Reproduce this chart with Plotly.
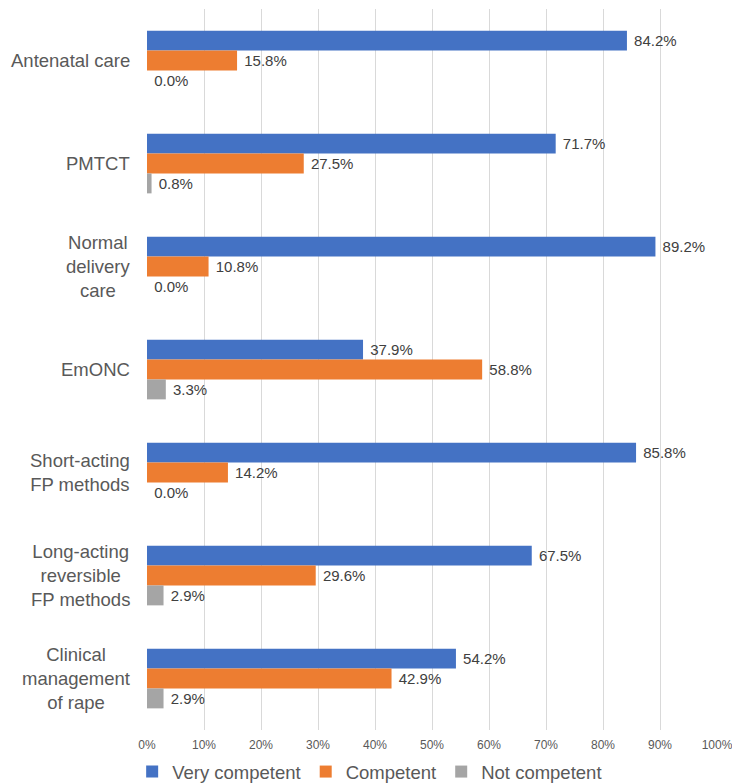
import plotly.graph_objects as go

categories = ["Antenatal care", "PMTCT", "Normal<br>delivery<br>care", "EmONC",
              "Short-acting<br>FP methods", "Long-acting<br>reversible<br>FP methods",
              "Clinical<br>management<br>of rape"]
very_competent = [84.2, 71.7, 89.2, 37.9, 85.8, 67.5, 54.2]
competent = [15.8, 27.5, 10.8, 58.8, 14.2, 29.6, 42.9]
not_competent = [0.0, 0.8, 0.0, 3.3, 0.0, 2.9, 2.9]
series_names = ["Very competent", "Competent", "Not competent"]
colors = ["#4472C4", "#ED7D31", "#A5A5A5"]
tick_vals = [0, 10, 20, 30, 40, 50, 60, 70, 80, 90, 100]
tick_text = [f"{v}%" for v in tick_vals]

FONT = "Liberation Sans, Arial"

fig = go.Figure()
for name, vals, col in zip(series_names, [very_competent, competent, not_competent], colors):
    fig.add_trace(go.Bar(
        y=list(range(len(categories))), x=vals, name=name, orientation="h",
        marker=dict(color=col, line=dict(width=0)),
        text=[f"\u00a0{v:.1f}%" for v in vals], textposition="outside",
        textfont=dict(size=15, color="#404040", family=FONT),
        cliponaxis=False,
    ))

for i, c in enumerate(categories):
    fig.add_annotation(x=0, y=i, xref="paper", yref="y", text=c, showarrow=False,
                       xanchor="right", yanchor="middle", align="center", xshift=-15,
                       font=dict(size=18.5, color="#595959", family=FONT))

fig.update_layout(
    width=732, height=783,
    margin=dict(l=147, r=15, t=9, b=53, autoexpand=False),
    barmode="group", bargap=0.42, bargroupgap=0,
    plot_bgcolor="white", paper_bgcolor="white",
    font=dict(family=FONT, color="#595959"),
    xaxis=dict(range=[0, 100], tickvals=tick_vals, ticktext=tick_text,
               showgrid=True, gridcolor="#D9D9D9", gridwidth=1, zeroline=False,
               showline=False, tickfont=dict(size=12, color="#595959"), ticks="",
               ticklabelstandoff=6, ticklabeloverflow="allow", automargin=False),
    yaxis=dict(range=[len(categories) - 0.5, -0.5], showticklabels=False,
               showgrid=False, zeroline=False, showline=False, ticks="",
               automargin=False),
    legend=dict(orientation="h", x=0.505, xanchor="center", xref="container",
                y=0.014, yanchor="middle", yref="container",
                font=dict(size=18.5, color="#595959"), traceorder="normal",
                itemwidth=30),
    showlegend=True,
)

fig.write_html("out.html", config={"displayModeBar": False},
               post_script="document.body.style.margin='0';")
